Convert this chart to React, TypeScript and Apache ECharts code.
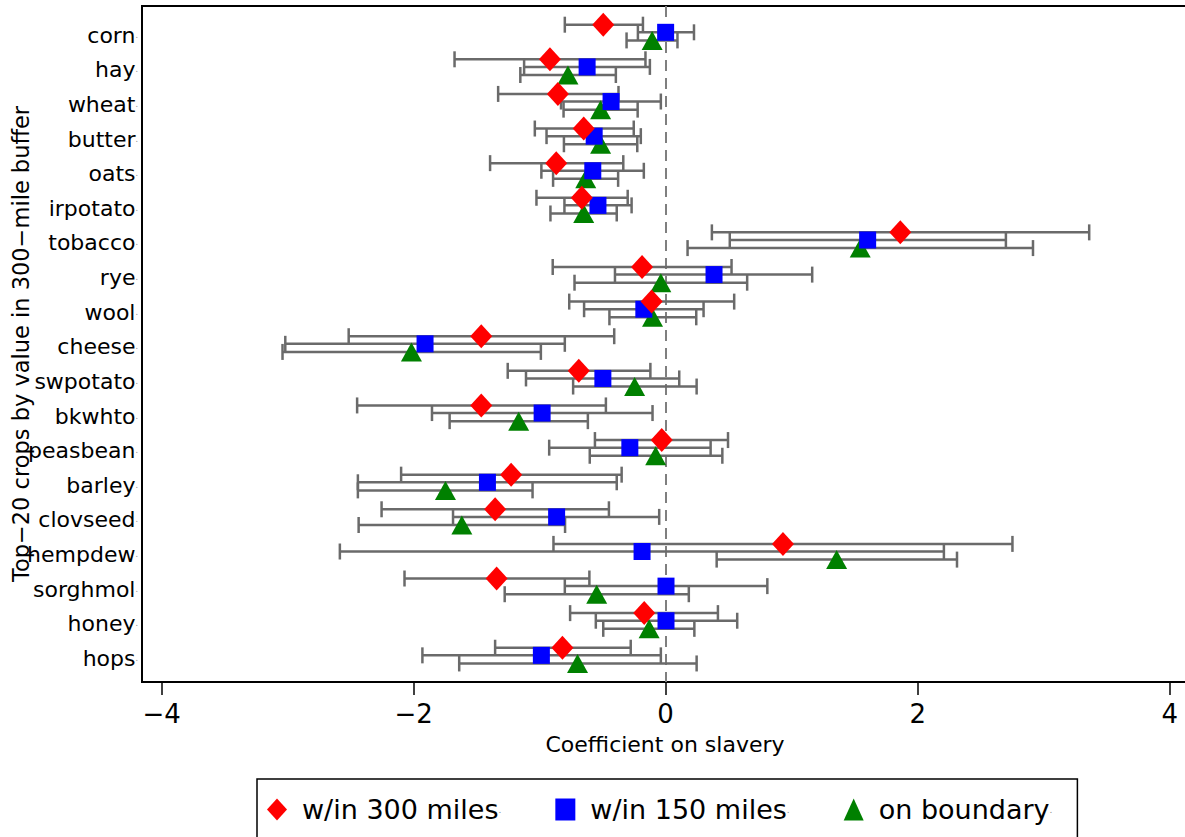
import React, { useEffect, useRef } from "react";
import * as echarts from "echarts";

const categories = ["corn", "hay", "wheat", "butter", "oats", "irpotato", "tobacco", "rye", "wool", "cheese", "swpotato", "bkwhto", "peasbean", "barley", "clovseed", "hempdew", "sorghmol", "honey", "hops"];

const seriesNames = ["w/in 300 miles", "w/in 150 miles", "on boundary"];

const coef300 = [-0.495, -0.918, -0.855, -0.65, -0.868, -0.665, 1.862, -0.187, -0.111, -1.463, -0.689, -1.463, -0.031, -1.226, -1.353, 0.931, -1.341, -0.17, -0.819];
const lo300 = [-0.8, -1.675, -1.329, -1.038, -1.393, -1.025, 0.367, -0.896, -0.765, -2.515, -1.253, -2.448, -0.561, -2.099, -2.254, -0.89, -2.072, -0.758, -1.353];
const hi300 = [-0.18, -0.16, -0.374, -0.253, -0.336, -0.301, 3.361, 0.523, 0.544, -0.408, -0.121, -0.474, 0.495, -0.349, -0.45, 2.752, -0.605, 0.415, -0.277];

const coef150 = [0.0, -0.623, -0.433, -0.567, -0.578, -0.537, 1.603, 0.384, -0.173, -1.909, -0.498, -0.98, -0.284, -1.414, -0.865, -0.187, 0.003, 0.003, -0.986];
const lo150 = [-0.22, -1.123, -0.83, -0.945, -0.986, -0.803, 0.509, -0.402, -0.647, -3.018, -1.108, -1.854, -0.924, -2.442, -1.687, -2.585, -0.8, -0.554, -1.93];
const hi150 = [0.225, -0.125, -0.038, -0.197, -0.173, -0.27, 2.7, 1.163, 0.301, -0.8, 0.108, -0.104, 0.357, -0.388, -0.051, 2.208, 0.807, 0.568, -0.038];

const coefBnd = [-0.107, -0.775, -0.516, -0.516, -0.634, -0.65, 1.544, -0.038, -0.104, -2.017, -0.246, -1.166, -0.079, -1.747, -1.617, 1.357, -0.547, -0.131, -0.699];
const loBnd = [-0.31, -1.153, -0.81, -0.807, -0.893, -0.914, 0.174, -0.723, -0.446, -3.04, -0.734, -1.714, -0.602, -2.442, -2.436, 0.405, -1.277, -0.495, -1.638];
const hiBnd = [0.094, -0.395, -0.222, -0.225, -0.377, -0.388, 2.915, 0.647, 0.243, -0.99, 0.246, -0.617, 0.45, -1.056, -0.798, 2.312, 0.184, 0.228, 0.246];

const xTicks = [-4, -2, 0, 2, 4];

const FONT = "DejaVu Sans";

export default function App() {
  const ref = useRef<HTMLDivElement>(null);

  useEffect(() => {
    if (!ref.current) return;
    const chart = echarts.init(ref.current, null, { renderer: "svg" });

    const groups = [
      { name: seriesNames[0], coef: coef300, lo: lo300, hi: hi300, off: -0.22, color: "#ff0000", symbol: "diamond", size: [22, 24] },
      { name: seriesNames[1], coef: coef150, lo: lo150, hi: hi150, off: 0, color: "#0000ff", symbol: "rect", size: [17, 17] },
      { name: seriesNames[2], coef: coefBnd, lo: loBnd, hi: hiBnd, off: 0.234, color: "#008000", symbol: "triangle", size: [21, 19] },
    ];

    const barStyle = { stroke: "#6a6a6a", lineWidth: 2.5 };
    const renderBar = (params: any, api: any) => {
      const a = api.coord([api.value(0), api.value(2)]);
      const b = api.coord([api.value(1), api.value(2)]);
      return {
        type: "group",
        children: [
          { type: "line", shape: { x1: a[0], y1: a[1], x2: b[0], y2: b[1] }, style: barStyle },
          { type: "line", shape: { x1: a[0], y1: a[1] - 8, x2: a[0], y2: a[1] + 8 }, style: barStyle },
          { type: "line", shape: { x1: b[0], y1: b[1] - 8, x2: b[0], y2: b[1] + 8 }, style: barStyle },
        ],
      };
    };

    const series: any[] = [];
    groups.forEach((g) => {
      series.push({
        type: "custom",
        name: g.name + " CI",
        renderItem: renderBar,
        encode: { x: [0, 1], y: 2 },
        data: categories.map((_, i) => [g.lo[i], g.hi[i], i + g.off]),
        z: 2,
        silent: true,
      });
    });
    groups.forEach((g, k) => {
      const s: any = {
        type: "scatter",
        name: g.name,
        symbol: g.symbol,
        symbolSize: g.size,
        itemStyle: { color: g.color, opacity: 1 },
        data: categories.map((_, i) => [g.coef[i], i + g.off]),
        z: 5 - k,
      };
      if (k === 1) {
        s.markLine = {
          silent: true,
          symbol: "none",
          label: { show: false },
          lineStyle: { color: "#7f7f7f", width: 2, type: [11, 7] },
          data: [{ xAxis: 0 }],
          z: 1,
        };
      }
      series.push(s);
    });

    const option: any = {
      animation: false,
      backgroundColor: "#ffffff",
      textStyle: { fontFamily: FONT },
      grid: {
        left: 142,
        right: -3,
        top: 6,
        bottom: 155,
        show: true,
        borderColor: "#000",
        borderWidth: 2,
        backgroundColor: "transparent",
        containLabel: false,
        outerBoundsMode: "none",
      },
      xAxis: {
        type: "value",
        min: -4.155,
        max: 4.145,
        name: "Coefficient on slavery",
        nameLocation: "middle",
        nameGap: 51,
        nameMoveOverlap: false,
        nameTextStyle: { fontFamily: FONT, fontSize: 22, color: "#000" },
        axisLine: { show: false, onZero: false },
        splitLine: { show: false },
        axisTick: { show: true, length: 13, lineStyle: { color: "#000", width: 1.5 }, customValues: xTicks },
        axisLabel: {
          customValues: xTicks,
          margin: 19,
          fontFamily: FONT,
          fontSize: 26,
          color: "#000",
          formatter: (v: number) => (v < 0 ? "\u2212" + Math.abs(v) : String(v)),
        },
      },
      yAxis: {
        type: "value",
        inverse: true,
        min: -0.76,
        max: 18.77,
        name: "Top\u221220 crops by value in 300\u2212mile buffer",
        nameLocation: "middle",
        nameGap: 110,
        nameMoveOverlap: false,
        nameTextStyle: { fontFamily: FONT, fontSize: 22.5, color: "#000" },
        axisLine: { show: false, onZero: false },
        axisTick: { show: false },
        splitLine: { show: false },
        axisLabel: {
          customValues: categories.map((_, i) => i),
          margin: 4,
          padding: [6, 0, 0, 0],
          formatter: (v: number) => "{a|" + categories[Math.round(v)] + "}{d|.}",
          rich: {
            a: { fontFamily: FONT, fontSize: 22, color: "#000" },
            d: { fontFamily: FONT, fontSize: 8, color: "#888" },
          },
        },
      },
      legend: {
        data: [
          { name: seriesNames[0], icon: "diamond" },
          { name: seriesNames[1], icon: "rect" },
          { name: seriesNames[2], icon: "triangle" },
        ],
        left: 257,
        top: 779,
        orient: "horizontal",
        selectedMode: false,
        borderColor: "#000",
        borderWidth: 1.5,
        padding: [17, 25, 17, 10],
        itemWidth: 20,
        itemHeight: 22,
        itemGap: 54,
        formatter: (n: string) => "{t|" + n + "}{d|.}",
        textStyle: {
          padding: [0, 0, 0, 10],
          rich: {
            t: { fontFamily: FONT, fontSize: 27, color: "#000" },
            d: { fontFamily: FONT, fontSize: 9, color: "#888" },
          },
        },
      },
      series,
    };

    chart.setOption(option);
    return () => chart.dispose();
  }, []);

  return (
    <div
      ref={ref}
      style={{ position: "fixed", left: 0, top: 0, width: 1185, height: 837, background: "#fff" }}
    />
  );
}
